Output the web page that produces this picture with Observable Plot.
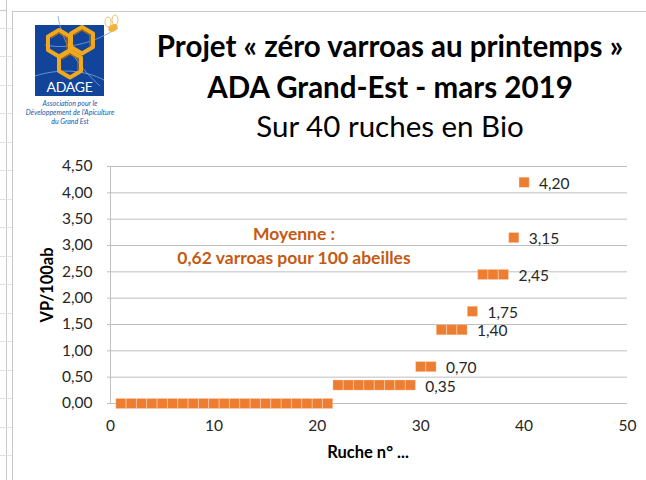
<!DOCTYPE html>
<html>
<head>
<meta charset="utf-8">
<script src="https://cdn.jsdelivr.net/npm/d3@7"></script>
<script src="https://cdn.jsdelivr.net/npm/@observablehq/plot@0.6"></script>
<style>
  body { margin: 0; background: #fff; }
  #wrap { position: relative; width: 646px; height: 480px; overflow: hidden; background: #fff; font-family: Lato, "Open Sans", sans-serif; }
  #chart { position: absolute; left: 0; top: 0; }
  .txt { position: absolute; white-space: nowrap; }
  .title { left: 140px; width: 500px; text-align: center; color: #000; font-weight: 700; font-size: 29.5px; line-height: 32px; }
  .sub { left: 140px; width: 500px; text-align: center; color: #000; font-weight: 400; font-size: 29.5px; line-height: 32px; }
  .ann { left: 144px; width: 300px; text-align: center; color: #C55A11; font-weight: 700; font-size: 17.5px; line-height: 22px; }
  .axt { color: #000; font-weight: 700; font-size: 16.5px; line-height: 20px; }
</style>
</head>
<body>
<div id="wrap">
  <svg id="bg" width="646" height="480" style="position:absolute;left:0;top:0">
    <g stroke="#c8c8c8" stroke-width="1">
      <line x1="6.5" y1="0" x2="6.5" y2="480"/>
      <line x1="12.5" y1="11" x2="12.5" y2="480"/>
      <line x1="12.5" y1="11.5" x2="646" y2="11.5"/>
      <line x1="0" y1="10.5" x2="6" y2="10.5"/>
    </g>
    <g stroke="#e2e2e2" stroke-width="1" id="rows"></g>
    <!-- ADAGE logo -->
    <g id="logo">
      <rect x="35" y="25" width="69" height="71" fill="#12459a"/>
      <g fill="none" stroke="#7ea6dc" stroke-width="0.8">
        <path d="M58 16 C 62 45, 82 70, 100 86"/>
        <path d="M35 76 C 60 68, 85 70, 104 80"/>
        <path d="M45 45 C 70 50, 95 42, 118 28"/>
      </g>
      <g fill="none" stroke="#f2a81d" stroke-width="4" stroke-linejoin="round">
        <path d="M59 30 L70 36.5 L70 50 L59 56.5 L48 50 L48 36.5 Z"/>
        <path d="M82 27 L93 33.5 L93 47 L82 53.5 L71 47 L71 33.5 Z"/>
        <path d="M70 51 L81 57.5 L81 71 L70 77.5 L59 71 L59 57.5 Z"/>
      </g>
      <g fill="none" stroke="#b86f05" stroke-width="1.2">
        <path d="M51 38 L59 33 L67 38 L67 49"/>
        <path d="M74 35 L82 30 L90 35 L90 46"/>
        <path d="M62 59 L70 54 L78 59 L78 70"/>
      </g>
      <g>
        <ellipse cx="113" cy="28" rx="5" ry="3.5" fill="#f0b43c" transform="rotate(-30 113 28)"/>
        <ellipse cx="108" cy="22" rx="3" ry="5" fill="none" stroke="#e8b04a" stroke-width="0.8"/>
        <ellipse cx="115" cy="20" rx="3" ry="5" fill="none" stroke="#e8b04a" stroke-width="0.8"/>
      </g>
      <text x="69.5" y="92" text-anchor="middle" fill="#fff" font-family="Lato, sans-serif" font-size="14" letter-spacing="-0.3">ADAGE</text>
      <g fill="#2456a8" font-family="Lato, sans-serif" font-size="7" font-style="italic" text-anchor="middle">
        <text x="70" y="106">Association pour le</text>
        <text x="70" y="115">Développement de l'Apiculture</text>
        <text x="70" y="124">du Grand Est</text>
      </g>
    </g>
  </svg>
  <div id="chart"></div>
  <div class="txt title" style="top:30px">Projet « zéro varroas au printemps »</div>
  <div class="txt title" style="top:71px">ADA Grand-Est - mars 2019</div>
  <div class="txt sub" style="top:110px">Sur 40 ruches en Bio</div>
  <div class="txt ann" style="top:223px">Moyenne :</div>
  <div class="txt ann" style="top:247px">0,62 varroas pour 100 abeilles</div>
  <div class="txt axt" style="left:7px;top:275px;width:80px;text-align:center;transform:rotate(-90deg);">VP/100ab</div>
  <div class="txt axt" style="left:288px;top:442px;width:160px;text-align:center;">Ruche n° ...</div>
</div>
<script>
// Hive numbers (Ruche n°)
const hiveNo = [1,2,3,4,5,6,7,8,9,10,11,12,13,14,15,16,17,18,19,20,21,22,23,24,25,26,27,28,29,30,31,32,33,34,35,36,37,38,39,40];
// Varroa per 100 bees (VP/100ab)
const vp100 = [0,0,0,0,0,0,0,0,0,0,0,0,0,0,0,0,0,0,0,0,0,
               0.35,0.35,0.35,0.35,0.35,0.35,0.35,0.35,
               0.70,0.70,
               1.40,1.40,1.40,
               1.75,
               2.45,2.45,2.45,
               3.15,
               4.20];
// Hives carrying a data label, and the label text
const labelHive = [29,31,34,35,38,39,40];
const labelText = ["0,35","0,70","1,40","1,75","2,45","3,15","4,20"];
// Axis ticks
const yTicks = [0,0.5,1,1.5,2,2.5,3,3.5,4,4.5];
const yTickLabels = ["0,00","0,50","1,00","1,50","2,00","2,50","3,00","3,50","4,00","4,50"];
const xTicks = [0,10,20,30,40,50];

// spreadsheet row lines at left edge (decoration)
const rows = document.getElementById("rows");
for (let y = 27.5; y < 480; y += 28.5) {
  const l = document.createElementNS("http://www.w3.org/2000/svg", "line");
  l.setAttribute("x1", 0); l.setAttribute("x2", 12);
  l.setAttribute("y1", Math.round(y) + 0.5); l.setAttribute("y2", Math.round(y) + 0.5);
  rows.appendChild(l);
}

const points = hiveNo.map((h, i) => ({hive: h, vp: vp100[i]}));
const labels = labelHive.map((h, i) => ({hive: h, vp: vp100[hiveNo.indexOf(h)], text: labelText[i]}));

const chart = Plot.plot({
  width: 646,
  height: 480,
  marginLeft: 110,
  marginRight: 19,
  marginTop: 166,
  marginBottom: 77,
  x: {domain: [0, 50]},
  y: {domain: [0, 4.5]},
  style: {fontFamily: "Lato, 'Open Sans', sans-serif", fontSize: "15px", background: "transparent", color: "#262626"},
  marks: [
    Plot.gridY(yTicks, {stroke: "#bfbfbf", strokeOpacity: 1}),
    Plot.ruleX([0], {stroke: "#bfbfbf"}),
    Plot.axisY(yTicks, {tickFormat: d => yTickLabels[yTicks.indexOf(d)], tickSize: 3, tickPadding: 15, stroke: "#bfbfbf", color: "#262626", label: null, fontSize: 15.5}),
    Plot.axisX(xTicks, {tickFormat: d => String(d), tickSize: 0, tickPadding: 16, color: "#262626", label: null, fontSize: 15.5}),
    Plot.dot(points, {x: "hive", y: "vp", symbol: "square", r: 5.7, fill: "#ED7D31", stroke: "#fbe3d3", strokeWidth: 0.3}),
    Plot.text(labels, {x: "hive", y: "vp", text: "text", textAnchor: "start", dx: 15, dy: 1.5, fill: "#262626", fontSize: 15.5})
  ]
});
document.getElementById("chart").appendChild(chart);
</script>
</body>
</html>
